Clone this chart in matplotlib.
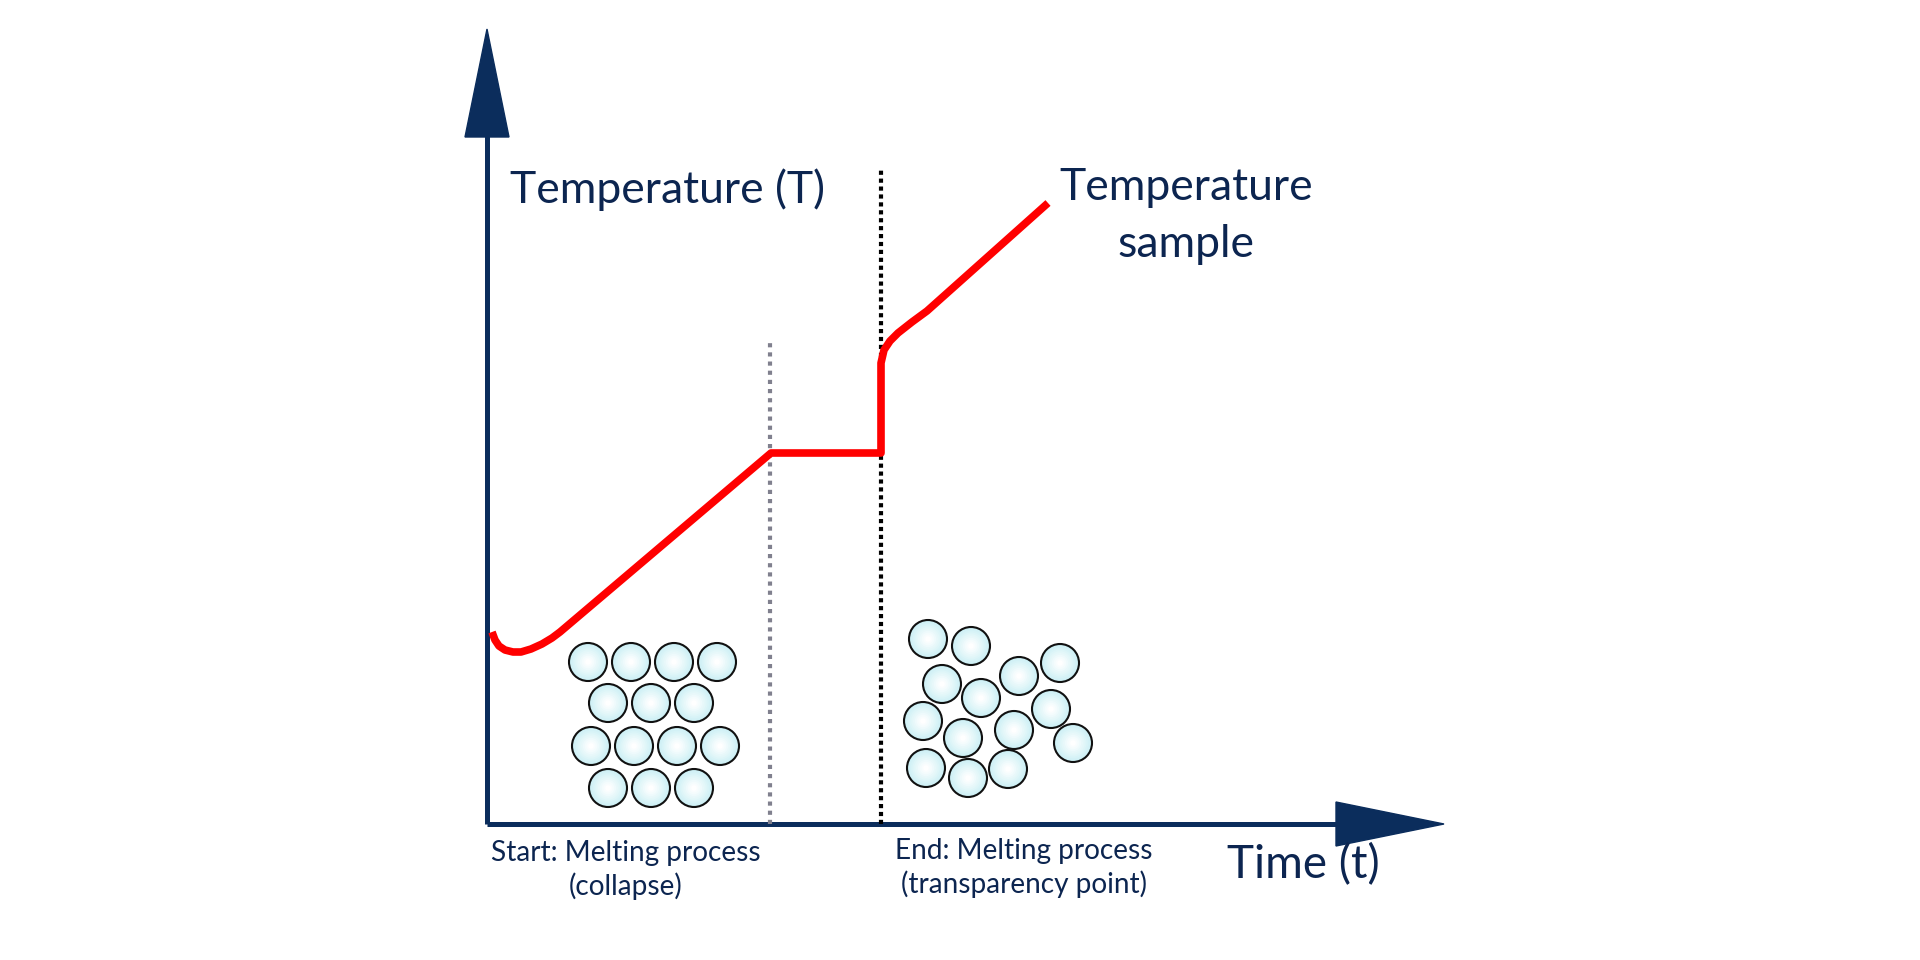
import matplotlib
matplotlib.use("Agg")
import matplotlib.pyplot as plt
from matplotlib.patches import Circle, Polygon
import numpy as np

plt.rcParams['font.family'] = ['Lato', 'DejaVu Sans']

# diagram units: origin at axis crossing, 1 unit ~ 1 px
curve_t = [5, 8, 12, 18, 26, 34, 44, 55, 65, 73, 284, 394, 394, 397, 403, 411, 425, 440, 561]
curve_T = [192, 184, 178, 174, 172, 172, 175, 180, 186, 192, 371, 371, 461, 474, 483, 491, 502, 513, 621]

t_start = 283      # start of melting (collapse)
t_end = 394        # end of melting (transparency point)
start_top = 484
end_top = 656

t_axis_end = 957
T_axis_end = 795

solid_t = [101, 144, 187, 230, 121, 164, 207, 104, 147, 190, 233, 121, 164, 207]
solid_T = [162, 162, 162, 162, 121, 121, 121, 78, 78, 78, 78, 36, 36, 36]
liquid_t = [441, 484, 455, 532, 573, 494, 564, 436, 476, 527, 586, 439, 481, 521]
liquid_T = [185, 178, 140, 148, 161, 126, 115, 103, 86, 94, 81, 56, 46, 55]
radius = 19

navy = '#0b2d5c'
txt = '#0c2550'

fig = plt.figure(figsize=(19.2, 9.6), dpi=100)
ax = fig.add_axes([0, 0, 1, 1])
ax.set_xlim(-487, 1433)
ax.set_ylim(-136, 824)
ax.axis('off')

# axes with arrow heads
head_len = 108
head_w = 22
ax.plot([0, 0], [0, T_axis_end - head_len + 2], color=navy, lw=3.6, solid_capstyle='butt')
ax.plot([0, t_axis_end - head_len + 2], [0, 0], color=navy, lw=3.6, solid_capstyle='butt')
ax.add_patch(Polygon([[-head_w, T_axis_end - head_len], [head_w, T_axis_end - head_len], [0, T_axis_end]],
                     closed=True, color=navy))
ax.add_patch(Polygon([[t_axis_end - head_len, -head_w], [t_axis_end - head_len, head_w], [t_axis_end, 0]],
                     closed=True, color=navy))

# melting markers
ax.plot([t_start, t_start], [0, start_top], color='#80808e', lw=3, ls=(0, (1, 1.2)))
ax.plot([t_end, t_end], [0, end_top], color='black', lw=3, ls=(0, (1, 0.9)))

# temperature curve
ax.plot(curve_t, curve_T, color='#ff0000', lw=5.5, solid_joinstyle='round', solid_capstyle='butt', zorder=3)

# particles
def particle(x, y):
    n = 10
    for k in range(n):
        f = k / (n - 1)
        c = np.array([0.80, 0.94, 0.96]) * (1 - f) + np.array([1, 1, 1]) * f
        ax.add_patch(Circle((x, y), radius * (1 - 0.85 * f), color=c, lw=0, zorder=4))
    ax.add_patch(Circle((x, y), radius, fill=False, ec='#111111', lw=1.5, zorder=5))

for x, y in zip(solid_t, solid_T):
    particle(x, y)
for x, y in zip(liquid_t, liquid_T):
    particle(x, y)

# labels (va='baseline' puts the last line on y)
ax.text(23, 621, 'Temperature (T)', fontsize=32, color=txt, ha='left', va='baseline')
ax.text(699, 567, 'Temperature\nsample', fontsize=32, color=txt, ha='center', va='baseline',
        multialignment='center', linespacing=1.47)
ax.text(740, -54, 'Time (t)', fontsize=33, color=txt, ha='left', va='baseline')
ax.text(139, -71, 'Start: Melting process\n(collapse)', fontsize=20.2, color=txt, ha='center',
        va='baseline', multialignment='center', linespacing=1.28)
ax.text(537, -69, 'End: Melting process\n(transparency point)', fontsize=20.2, color=txt, ha='center',
        va='baseline', multialignment='center', linespacing=1.28)

fig.savefig('out.png', dpi=100, facecolor='white')
